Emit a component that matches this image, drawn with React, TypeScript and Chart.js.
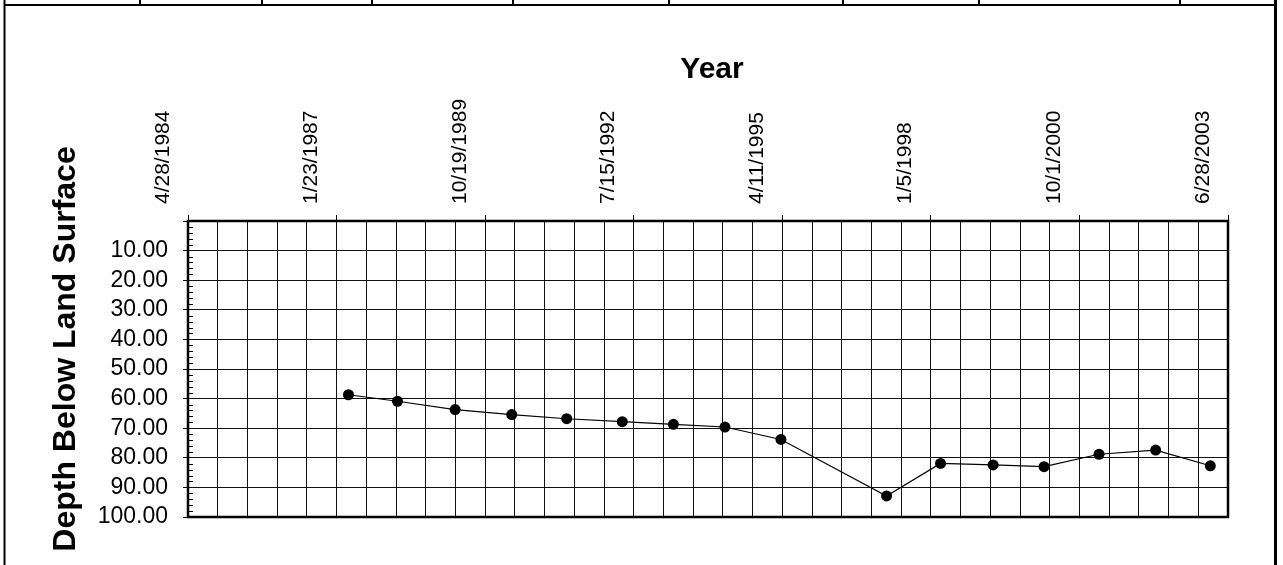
import React, { useEffect, useRef } from 'react';
import { Chart, registerables } from 'chart.js';

Chart.register(...registerables);

// ---- Data ----
const xTitle = 'Year';
const yTitle = 'Depth Below Land Surface';

// x axis in Excel day serials (4/28/1984 = 30800)
const xMin = 30800;
const xMax = 37800;
const xMajorStep = 1000;
const xGridStep = 200;
const xTickLabels = [
  '4/28/1984',
  '1/23/1987',
  '10/19/1989',
  '7/15/1992',
  '4/11/1995',
  '1/5/1998',
  '10/1/2000',
  '6/28/2003',
];

const yMin = 0;
const yMax = 100;
const yStep = 10;
const yMinorStep = 2;

const sampleDates = [
  '1987-04-13',
  '1988-03-08',
  '1989-03-31',
  '1990-04-16',
  '1991-04-21',
  '1992-04-29',
  '1993-04-08',
  '1994-03-21',
  '1995-04-02',
  '1997-03-13',
  '1998-03-11',
  '1999-02-28',
  '2000-02-06',
  '2001-02-10',
  '2002-02-26',
  '2003-03-01',
];
const depths = [58.7, 60.9, 63.7, 65.4, 66.8, 67.8, 68.7, 69.6, 73.8, 92.9, 81.9, 82.4, 83.0, 78.8, 77.4, 82.7];

function dateToSerial(iso: string): number {
  const [y, m, d] = iso.split('-').map(Number);
  return Date.UTC(y, m - 1, d) / 86400000 + 25569;
}

const FONT = '"Liberation Sans", Arial, Helvetica, sans-serif';
const W = 1283;
const H = 565;

const decorPlugin = {
  id: 'decor',
  afterDraw(chart: any) {
    const ctx = chart.ctx;
    const a = chart.chartArea;
    const yScale = chart.scales.y;
    ctx.save();
    // minor inward ticks on y axis
    ctx.strokeStyle = '#000';
    ctx.lineWidth = 1;
    ctx.beginPath();
    for (let v = yMin; v <= yMax; v += yMinorStep) {
      if (v % yStep === 0) continue;
      const py = Math.round(yScale.getPixelForValue(v)) + 0.5;
      ctx.moveTo(a.left, py);
      ctx.lineTo(a.left + 5, py);
    }
    ctx.stroke();
    // plot border
    ctx.lineWidth = 2.5;
    ctx.strokeRect(a.left, a.top, a.right - a.left, a.bottom - a.top);

    // page frame (scanned table borders)
    ctx.lineWidth = 2;
    ctx.beginPath();
    ctx.moveTo(4, 5);
    ctx.lineTo(1276, 5);
    ctx.moveTo(4.5, 0);
    ctx.lineTo(4.5, H);
    const stubs = [140, 262, 372, 513, 669, 843, 979, 1180];
    for (const sx of stubs) {
      ctx.moveTo(sx, 0);
      ctx.lineTo(sx, 5);
    }
    ctx.stroke();
    ctx.lineWidth = 3;
    ctx.beginPath();
    ctx.moveTo(1275.5, 0);
    ctx.lineTo(1275.5, H);
    ctx.stroke();

    // titles
    ctx.fillStyle = '#000';
    ctx.font = `bold 30px ${FONT}`;
    ctx.textAlign = 'center';
    ctx.textBaseline = 'alphabetic';
    ctx.fillText(xTitle, 712, 78);

    ctx.font = `bold 32px ${FONT}`;
    ctx.translate(75, 349);
    ctx.rotate(-Math.PI / 2);
    ctx.fillText(yTitle, 0, 0);
    ctx.restore();
  },
};

export default function App() {
  const ref = useRef<HTMLCanvasElement | null>(null);

  useEffect(() => {
    if (!ref.current) return;
    const points = sampleDates.map((d, i) => ({ x: dateToSerial(d), y: depths[i] }));
    const isMajorX = (v: number) => Math.abs(((v - xMin) / xMajorStep) - Math.round((v - xMin) / xMajorStep)) < 1e-6;

    const chart = new Chart(ref.current, {
      type: 'scatter',
      data: {
        datasets: [
          {
            data: points,
            showLine: true,
            borderColor: '#000',
            borderWidth: 1.2,
            pointRadius: 5.5,
            pointBackgroundColor: '#000',
            pointBorderColor: '#000',
            pointBorderWidth: 0,
          },
        ],
      },
      options: {
        animation: false,
        responsive: false,
        devicePixelRatio: 1,
        layout: { padding: { top: 0, left: 0, right: 55, bottom: 48 } },
        plugins: {
          legend: { display: false },
          tooltip: { enabled: false },
        },
        scales: {
          x: {
            type: 'linear',
            position: 'top',
            min: xMin,
            max: xMax,
            afterFit: (s: any) => {
              s.height = 221;
            },
            grid: {
              color: '#111',
              lineWidth: 1,
              drawTicks: true,
              tickLength: 6,
              tickColor: (c: any) => (c.tick && isMajorX(c.tick.value) ? '#000' : 'rgba(0,0,0,0)'),
            },
            border: { display: false },
            ticks: {
              stepSize: xGridStep,
              autoSkip: false,
              minRotation: 90,
              maxRotation: 90,
              padding: 11,
              color: '#000',
              font: { family: FONT, size: 21 },
              callback: (v: any) => {
                const val = Number(v);
                if (!isMajorX(val)) return '';
                const idx = Math.round((val - xMin) / xMajorStep);
                return xTickLabels[idx] ?? '';
              },
            },
          },
          y: {
            type: 'linear',
            position: 'left',
            reverse: true,
            min: yMin,
            max: yMax,
            afterFit: (s: any) => {
              s.width = 188;
            },
            grid: {
              color: '#111',
              lineWidth: 1,
              drawTicks: true,
              tickLength: 5,
              tickColor: '#000',
            },
            border: { display: false },
            ticks: {
              stepSize: yStep,
              autoSkip: false,
              padding: 15,
              color: '#000',
              font: { family: FONT, size: 23 },
              callback: (v: any) => (Number(v) === 0 ? '' : Number(v).toFixed(2)),
            },
          },
        },
      },
      plugins: [decorPlugin],
    });
    return () => chart.destroy();
  }, []);

  return (
    <div style={{ position: 'absolute', left: 0, top: 0, width: W, height: H, background: '#fff' }}>
      <canvas ref={ref} width={W} height={H} style={{ display: 'block', width: W, height: H }} />
    </div>
  );
}
